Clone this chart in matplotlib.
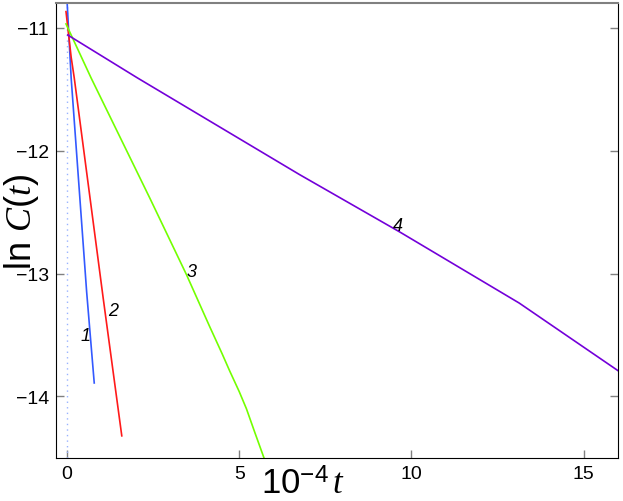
import numpy as np
import matplotlib
matplotlib.use('Agg')
import matplotlib.pyplot as plt

plt.rcParams['font.family'] = ['Liberation Sans', 'DejaVu Sans']
plt.rcParams['mathtext.fontset'] = 'custom'
plt.rcParams['mathtext.rm'] = 'Liberation Sans'
plt.rcParams['mathtext.it'] = 'Liberation Serif:italic'

# curve 1 (blue)
t1 = [0.0, 0.12, 0.57, 0.79]
c1 = [-10.78, -11.41, -13.15, -13.89]
# curve 2 (red)
t2 = [-0.03, 0.12, 0.21, 1.05, 1.59]
c2 = [-10.87, -11.24, -11.41, -13.20, -14.32]
# curve 3 (green)
t3 = [-0.03, 0.07, 0.70, 2.41, 3.47, 4.14, 4.50, 4.72, 5.00, 5.21, 5.45, 5.72]
c3 = [-10.97, -11.03, -11.41, -12.39, -13.01, -13.43, -13.65, -13.79, -13.96, -14.10, -14.29, -14.50]
# curve 4 (purple)
t4 = [0.02, 2.05, 6.75, 9.65, 13.13, 16.0]
c4 = [-11.06, -11.41, -12.195, -12.66, -13.24, -13.79]

labels = ['1', '2', '3', '4']
label_t = [0.55, 1.33, 3.62, 9.62]
label_c = [-13.5, -13.30, -12.98, -12.61]

fig = plt.figure(figsize=(6.23, 5.02), dpi=100)
ax = fig.add_axes([0.0899, 0.0857, 0.9021, 0.9063])

ax.axvline(0, color=(0.6, 0.7, 1.0), linestyle=(0, (1, 3)), linewidth=1.0)
ax.plot(t1, c1, color=(0.2, 0.35, 1.0), lw=1.2)
ax.plot(t2, c2, color=(1.0, 0.1, 0.1), lw=1.2)
ax.plot(t3, c3, color=(0.45, 1.0, 0.0), lw=1.2)
ax.plot(t4, c4, color=(0.45, 0.0, 0.85), lw=1.2)

for s, x, y in zip(labels, label_t, label_c):
    ax.text(x, y, s, fontsize=13, style='italic', ha='center', va='center')

ax.set_xlim(-0.32, 16)
ax.set_ylim(-14.5, -10.8)
ax.set_xticks([0, 5, 10, 15])
ax.set_yticks([-14, -13, -12, -11])
ax.set_xticklabels(['0', '5', '10', '15'])
ax.set_yticklabels(['\u221214', '\u221213', '\u221212', '\u221211'])
ax.tick_params(direction='in', length=6, width=1, color='gray', labelsize=14,
               top=False, right=True, pad=5)
ax.spines['top'].set_color('gray')
ax.spines['top'].set_linewidth(1.5)
for sp in ['left', 'bottom', 'right']:
    ax.spines[sp].set_color('black')

fig.text(0.034, 0.558, r'ln $C(t)$', fontsize=26, rotation=90, ha='center', va='center')
fig.text(0.487, 0.0, r'$10^{-4}\,t$', fontsize=25, ha='center', va='bottom')

fig.savefig('out.png', dpi=100)
